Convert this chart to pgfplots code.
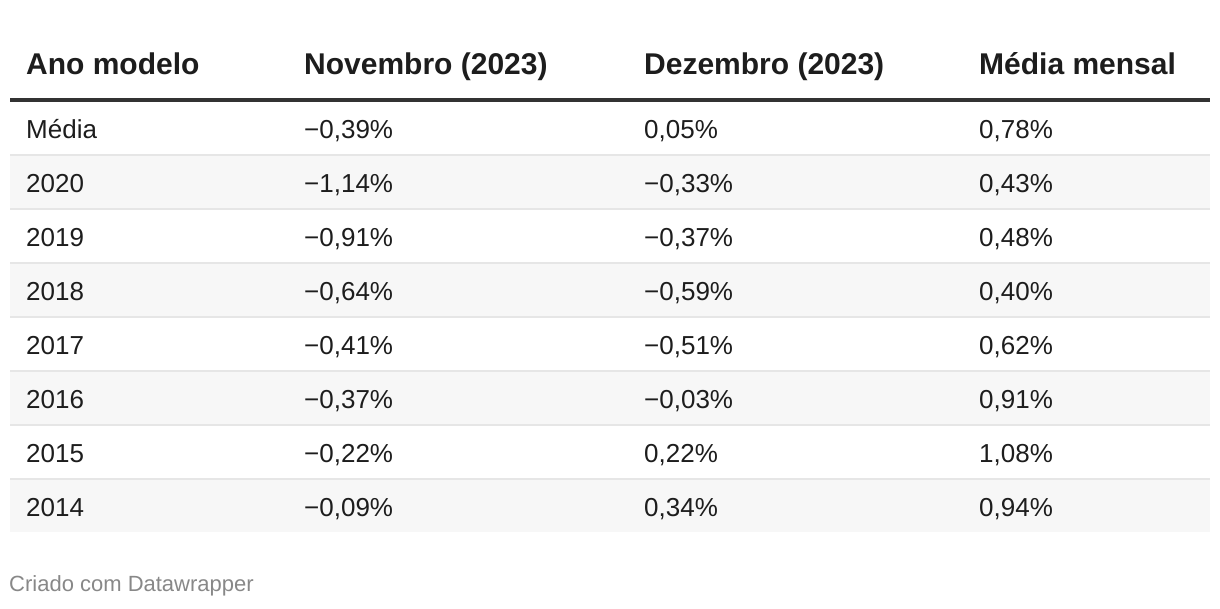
\documentclass[border=0pt]{standalone}
\usepackage{pgfplots}
\pgfplotsset{compat=1.18}
\usepackage{fontspec}
\setmainfont{Liberation Sans}
\definecolor{txt}{HTML}{1D1D1D}
\definecolor{rule}{HTML}{333333}
\definecolor{stripe}{HTML}{F7F7F7}
\definecolor{sep}{HTML}{E6E6E6}
\definecolor{foot}{HTML}{888888}
\begin{document}
\begin{tikzpicture}
\begin{axis}[
  scale only axis, width=1220bp, height=608bp,
  xmin=0, xmax=1220, ymin=0, ymax=608, y dir=reverse,
  hide axis, clip=false,
]
% background (defines picture size)
\addplot[draw=none, fill=white] coordinates {(0,0) (1220,0) (1220,608) (0,608)} -- cycle;
% striped rows: 2020, 2018, 2016, 2014
\addplot[draw=none, fill=stripe] coordinates {(10,156) (1210,156) (1210,208) (10,208)} -- cycle;
\addplot[draw=none, fill=stripe] coordinates {(10,264) (1210,264) (1210,316) (10,316)} -- cycle;
\addplot[draw=none, fill=stripe] coordinates {(10,372) (1210,372) (1210,424) (10,424)} -- cycle;
\addplot[draw=none, fill=stripe] coordinates {(10,480) (1210,480) (1210,532) (10,532)} -- cycle;
% row separators
\foreach \yy in {155,209,263,317,371,425,479}{
  \edef\tmp{\noexpand\addplot[draw=sep, line width=2bp, forget plot] coordinates {(10,\yy) (1210,\yy)};}
  \tmp
}
% header rule
\addplot[draw=rule, line width=4bp] coordinates {(10,100.3) (1210,100.3)};
% header text
\addplot[draw=none, mark=none, nodes near coords, point meta=explicit symbolic,
  every node near coord/.append style={anchor=base west, inner sep=0pt, text=txt,
    font=\fontsize{30bp}{36bp}\selectfont\bfseries}]
  table[col sep=semicolon, row sep=\\, x=x, y=y, meta=t] {
x;y;t\\
26;75;Ano modelo\\
304;75;Novembro (2023)\\
644;75;Dezembro (2023)\\
979;75;Média mensal\\
};
% body text
\addplot[draw=none, mark=none, nodes near coords, point meta=explicit symbolic,
  every node near coord/.append style={anchor=base west, inner sep=0pt, text=txt,
    font=\fontsize{26bp}{31bp}\selectfont}]
  table[col sep=semicolon, row sep=\\, x=x, y=y, meta=t] {
x;y;t\\
26;138.3;Média\\
304;138.3;−0,39\%\\
644;138.3;0,05\%\\
979;138.3;0,78\%\\
26;192.3;2020\\
304;192.3;−1,14\%\\
644;192.3;−0,33\%\\
979;192.3;0,43\%\\
26;246.3;2019\\
304;246.3;−0,91\%\\
644;246.3;−0,37\%\\
979;246.3;0,48\%\\
26;300.3;2018\\
304;300.3;−0,64\%\\
644;300.3;−0,59\%\\
979;300.3;0,40\%\\
26;354.3;2017\\
304;354.3;−0,41\%\\
644;354.3;−0,51\%\\
979;354.3;0,62\%\\
26;408.3;2016\\
304;408.3;−0,37\%\\
644;408.3;−0,03\%\\
979;408.3;0,91\%\\
26;462.3;2015\\
304;462.3;−0,22\%\\
644;462.3;0,22\%\\
979;462.3;1,08\%\\
26;516.3;2014\\
304;516.3;−0,09\%\\
644;516.3;0,34\%\\
979;516.3;0,94\%\\
};
% footer
\addplot[draw=none, mark=none, nodes near coords, point meta=explicit symbolic,
  every node near coord/.append style={anchor=base west, inner sep=0pt, text=foot,
    font=\fontsize{22bp}{26bp}\selectfont}]
  table[col sep=semicolon, row sep=\\, x=x, y=y, meta=t] {
x;y;t\\
9;591.5;Criado com Datawrapper\\
};
\end{axis}
\end{tikzpicture}
\end{document}
